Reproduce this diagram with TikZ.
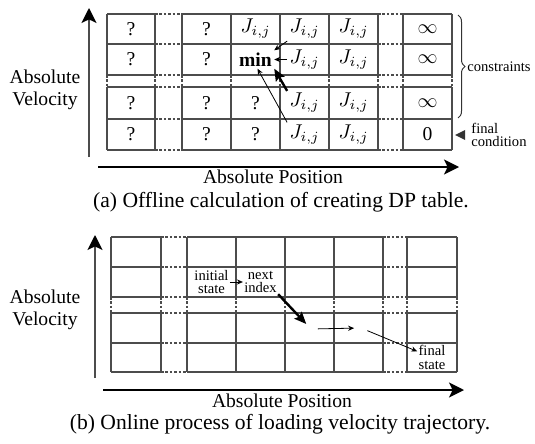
\documentclass[tikz,border=0pt]{standalone}
\usepackage{fontspec}
\setmainfont{Liberation Serif}
\usetikzlibrary{arrows.meta,decorations.pathreplacing}

\begin{document}
\begin{tikzpicture}[x=0.5pt,y=-0.5pt,
  grid/.style={draw=black!70,line width=0.55pt},
  gap/.style={draw=black!70,line width=0.55pt,dash pattern=on 1.3pt off 0.9pt},
  cell/.style={inner sep=1pt,font=\fontsize{9.8}{11}\selectfont},
  lab/.style={align=center,font=\fontsize{9.8}{11}\selectfont},
  poslab/.style={inner sep=0pt,anchor=base,font=\fontsize{9.8}{11}\selectfont},
  captext/.style={inner sep=0pt,anchor=base,font=\fontsize{10.8}{12}\selectfont},
  small/.style={align=center,inner sep=0.5pt,font=\fontsize{7.3}{6.6}\selectfont},
  axis/.style={draw=black!70,line width=0.8pt,-{Stealth[length=7.5pt,width=7.5pt,inset=1.8pt,color=black]}},
  axish/.style={axis,draw=black},
  thin/.style={line width=0.4pt,-{Stealth[length=3pt,width=2.6pt]}},
  thick/.style={line width=1.2pt,-{Stealth[length=6pt,width=5pt,inset=1pt]}},
  spot/.style={circle,inner sep=0pt,minimum size=6.5pt}]
\useasboundingbox (0,0) rectangle (535,444);

% (a) DP table
\foreach \y in {14,44,75,87,119,150} {
  \draw[grid] (107,\y) -- (155,\y) (182,\y) -- (378,\y) (403,\y) -- (452,\y);
  \draw[gap] (155,\y) -- (182,\y) (378,\y) -- (403,\y);
}
\foreach \x in {107,155,182,231,280,329,378,403,452} {
  \draw[grid] (\x,14) -- (\x,75) (\x,87) -- (\x,150);
  \draw[gap] (\x,75) -- (\x,87);
}
\foreach \r/\y in {1/29,2/59.5,3/103,4/134.5} {
  \node[cell] (a\r1) at (131,\y) {?};
  \node[cell] (a\r2) at (206.5,\y) {?};
  \node[cell] (a\r4) at (304.5,\y) {$J_{i,j}$};
  \node[cell] (a\r5) at (353.5,\y) {$J_{i,j}$};
}
\node[cell] (a13) at (255.5,29) {$J_{i,j}$};
\node[cell] (a23) at (255.5,59.5) {\textbf{min}};
\node[cell] (a33) at (255.5,103) {?};
\node[cell] (a43) at (255.5,134.5) {?};
\foreach \r/\y in {1/29,2/59.5,3/103} \node[cell] (a\r6) at (427.5,\y) {$\infty$};
\node[cell] (a46) at (427.5,134.5) {0};

\draw[thin] (a14.south west) -- (a23.north east);
\draw[thin] (a24.west) -- (a23.east);
\draw[thick] (a34.north west) -- (a23.south east);
\draw[thin] (a44.north west) -- ([xshift=1pt]a23.south);

% constraints
\draw[black!80,line width=0.5pt,decorate,decoration={brace,amplitude=3.5pt}] (458,15) -- (458,118);
\node[small,anchor=west] (cons) at (466,67) {constraints};
\fill[black!80] (455,135) -- (465,130) -- (465,140) -- cycle;
\node[small,anchor=west,align=left] (fin) at (470,135) {final\\condition};

% axes (a)
\coordinate (va0) at (89,157);
\coordinate (va1) at (89,8);
\coordinate (pa0) at (98,167);
\coordinate (pa1) at (459,167);
\draw[axis] (va0) -- (va1);
\draw[axish] (pa0) -- (pa1);
\node[lab] (vela) at (45,90) {Absolute\\Velocity};
\node[poslab] (posa) at (273,184) {Absolute Position};
\node[captext] (capa) at (281,207) {(a) Offline calculation of creating DP table.};

% (b) trajectory
\foreach \y in {237,267,297,313,343,372} {
  \draw[grid] (111,\y) -- (161,\y) (187,\y) -- (383,\y) (407,\y) -- (457,\y);
  \draw[gap] (161,\y) -- (187,\y) (383,\y) -- (407,\y);
}
\foreach \x in {111,161,187,236,285,334,383,407,457} {
  \draw[grid] (\x,237) -- (\x,297) (\x,313) -- (\x,372);
  \draw[gap] (\x,297) -- (\x,313);
}
\node[small] (b23) at (211.5,282) {initial\\state};
\node[small] (b24) at (260.5,282) {next\\index};
\node[spot] (b35) at (311,329) {};
\node[spot] (b36) at (361,328) {};
\node[small] (b46) at (432,357.5) {final\\state};

\draw[thin] (b23) -- (b24);
\draw[thick] (b24.south east) -- (b35);
\draw[thin] (b35) -- (b36);
\draw[thin] (b36) -- (b46);

% axes (b)
\coordinate (vb0) at (95,378);
\coordinate (vb1) at (95,235);
\coordinate (pb0) at (103,390);
\coordinate (pb1) at (464,390);
\draw[axis] (vb0) -- (vb1);
\draw[axish] (pb0) -- (pb1);
\node[lab] (velb) at (45,310) {Absolute\\Velocity};
\node[poslab] (posb) at (282,407) {Absolute Position};
\node[captext] (capb) at (280,429) {(b) Online process of loading velocity trajectory.};
\end{tikzpicture}
\end{document}
